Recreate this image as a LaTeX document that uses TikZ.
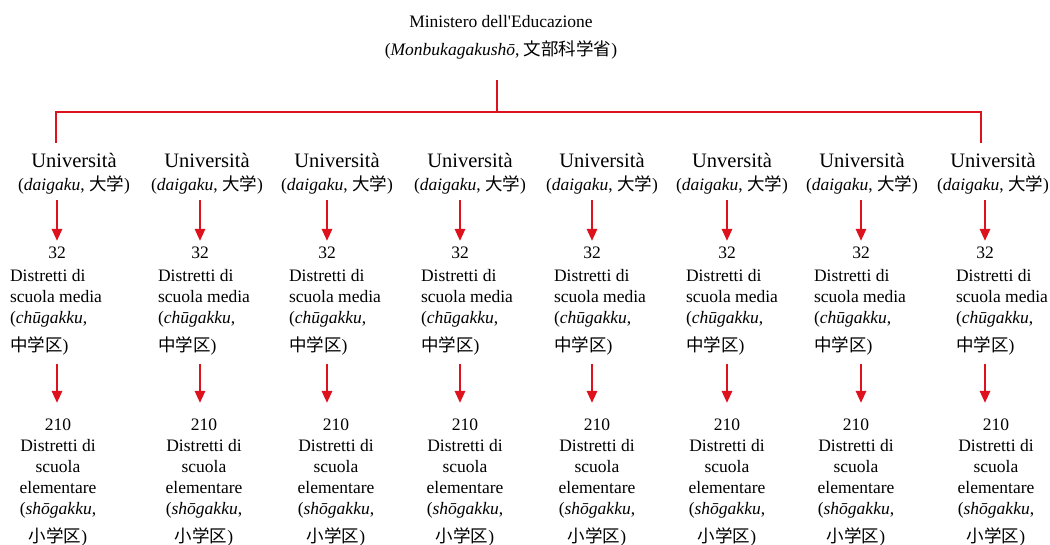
\documentclass[tikz,border=0pt]{standalone}
\usepackage{fontspec}
\setmainfont{Liberation Serif}
\newfontfamily\tnr{Liberation Serif}
\newfontfamily\cjk{Noto Sans CJK JP}
\usetikzlibrary{arrows.meta}
\definecolor{lred}{RGB}{222,18,28}
\tikzset{
  txt/.style={inner sep=0pt, font=\tnr\fontsize{17.5}{21}\selectfont},
  univ/.style={inner sep=0pt, font=\tnr\fontsize{20.5}{22}\selectfont},
  blk/.style={txt, anchor=north, align=left},
  lblk/.style={txt, anchor=north, align=center},
  bus/.style={draw=lred, line width=2.6pt},
  arr/.style={draw=lred, line width=2.6pt, -{Triangle[length=12pt,width=10pt]}},
}
\begin{document}
\begin{tikzpicture}[x=1pt,y=-1pt]
\useasboundingbox (0,0) rectangle (1050,545);
% ministry
\node[txt] (min1) at (501,22) {Ministero dell'Educazione};
\node[txt] (min2) at (501,50) {(\textit{Monbukagakushō}, {\cjk 文部科学省})};
\coordinate (top) at (497,80);
\coordinate (busc) at (497,112);
\coordinate (dl) at (56,143);
\coordinate (dr) at (981,143);
\draw[bus] (top) -- (busc);
\draw[bus, line join=miter] (dl) |- (busc) -| (dr);
% columns
\foreach \ci/\cu/\ca/\cm/\cl/\cn in {1/74/57/56/58/Università,2/207/200/204/204/Università,3/337/327/335/336/Università,4/470/460/467/465/Università,5/602/592/600/597/Università,6/732/727/732/727/Unversità,7/862/861/860/856/Università,8/993/985/1002/996/Università}{
  \node[univ] (u\ci) at (\cu,160) {\cn};
  \node[txt] (ud\ci) at (\cu,185) {(\textit{daigaku}, {\cjk 大学})};
  \coordinate (as\ci) at (\ca,200);
  \coordinate (ae\ci) at (\ca,241);
  \draw[arr] (as\ci) -- (ae\ci);
  \node[txt] (n\ci) at (\ca,253) {32};
  \node[blk] (m\ci) at (\cm,269) {Distretti di\\scuola media\\(\textit{chūgakku},\\[7pt]{\cjk 中学区})};
  \coordinate (bs\ci) at (\ca,364);
  \coordinate (be\ci) at (\ca,403);
  \draw[arr] (bs\ci) -- (be\ci);
  \node[lblk] (e\ci) at (\cl,419) {210\\Distretti di\\scuola\\elementare\\(\textit{shōgakku},\\[7pt]{\cjk 小学区})};
}
\end{tikzpicture}
\end{document}
